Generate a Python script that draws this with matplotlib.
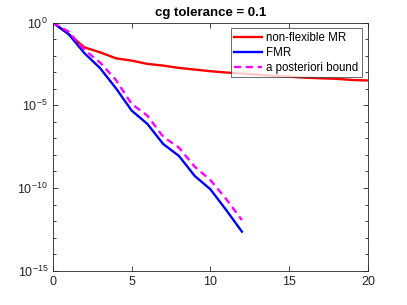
import numpy as np
import matplotlib
matplotlib.use("Agg")
import matplotlib.pyplot as plt
from matplotlib.ticker import FixedLocator, NullFormatter

matplotlib.rcParams["font.family"] = ["Liberation Sans", "DejaVu Sans"]
matplotlib.rcParams["mathtext.default"] = "regular"

# iteration index
it_mr = list(range(0, 21))
it_fmr = list(range(0, 13))

# log10 of residual norms
log_mr = [0.0, -0.7, -1.5, -1.8, -2.16, -2.3, -2.5, -2.6, -2.74, -2.84, -2.94,
          -3.02, -3.08, -3.15, -3.22, -3.27, -3.33, -3.37, -3.4, -3.47, -3.5]
log_fmr = [0.0, -0.7, -1.85, -2.76, -3.97, -5.32, -6.13, -7.34, -8.06, -9.27,
           -10.08, -11.33, -12.64]
log_bound = [0.0, -0.55, -1.65, -2.42, -3.47, -4.92, -5.63, -6.9, -7.56, -8.71,
             -9.52, -10.67, -11.94]

mr = 10.0 ** np.array(log_mr)
fmr = 10.0 ** np.array(log_fmr)
bound = 10.0 ** np.array(log_bound)

fig = plt.figure(figsize=(4.07, 3.05), dpi=100)
ax = fig.add_axes([0.13, 0.1125, 0.774, 0.8135])

ax.semilogy(it_mr, mr, color="#ff0000", lw=1.7, label="non-flexible MR")
ax.semilogy(it_fmr, fmr, color="#0000ff", lw=1.7, label="FMR")
ax.semilogy(it_fmr, bound, color="#ff00ff", lw=1.7, ls=(0, (3, 2)),
            label="a posteriori bound")

ax.set_xlim(0, 20)
ax.set_ylim(1e-15, 1e0)
ax.set_xticks([0, 5, 10, 15, 20])
ax.yaxis.set_major_locator(FixedLocator([1e-15, 1e-10, 1e-5, 1e0]))
ax.set_yticklabels([r"$10^{-15}$", r"$10^{-10}$", r"$10^{-5}$", r"$10^{0}$"])
ax.yaxis.set_minor_locator(FixedLocator([10.0 ** k for k in range(-15, 1)]))
ax.yaxis.set_minor_formatter(NullFormatter())

gray = "#262626"
for s in ax.spines.values():
    s.set_color(gray)
    s.set_linewidth(0.6)
ax.tick_params(which="both", direction="in", top=True, right=True,
               colors=gray, labelsize=9, width=0.6)
ax.tick_params(which="major", length=3.5)
ax.tick_params(which="minor", length=2.5)
ax.tick_params(axis="x", pad=4)

ax.set_title("cg tolerance = 0.1", fontsize=9.5, fontweight="bold", pad=5)

leg = ax.legend(loc="upper right", fontsize=8.3, frameon=True, fancybox=False,
                handlelength=2.4, borderpad=0.3, labelspacing=0.25,
                handletextpad=0.4, borderaxespad=0.5)
leg.get_frame().set_edgecolor(gray)
leg.get_frame().set_linewidth(0.6)

fig.savefig("out.png", dpi=100)
